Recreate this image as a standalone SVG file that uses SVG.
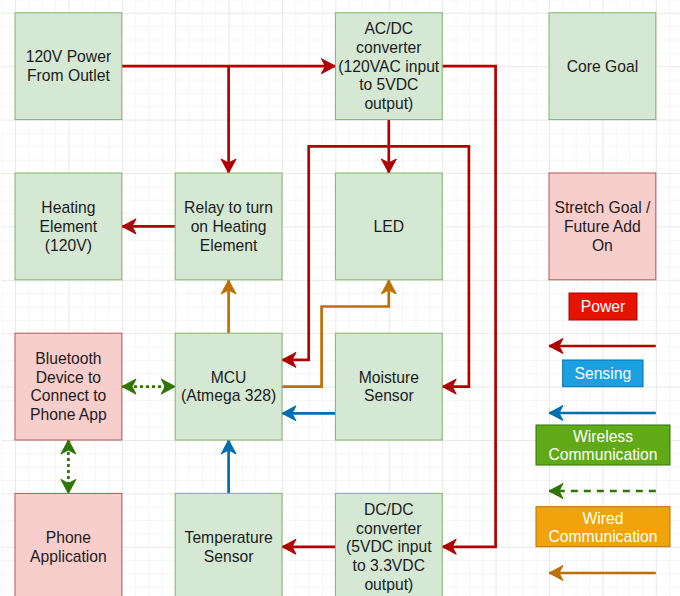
<svg xmlns="http://www.w3.org/2000/svg" width="680" height="596" viewBox="0 0 680 596">
<defs>
<style>
.g{fill:#d5e8d4;stroke:#82b366;stroke-width:1}
.p{fill:#f8cecc;stroke:#b85450;stroke-width:1}
text{font-family:"Liberation Sans",Arial,sans-serif;font-size:15.7px;text-anchor:middle;fill:#1c1c1c}
.w{fill:#ffffff}
.c{fill:none;stroke-width:2.7}
.r{stroke:#B20000}
.o{stroke:#BD7000}
.b{stroke:#006EAF}
.gr{stroke:#2D7600}
</style>
<pattern id="minor" patternUnits="userSpaceOnUse" x="15" y="12.8" width="13.35" height="13.35">
<path d="M0,0 H13.35 M0,0 V13.35" fill="none" stroke="#ececec" stroke-width="1"/>
</pattern>
<pattern id="major" patternUnits="userSpaceOnUse" x="15" y="12.8" width="53.4" height="53.4">
<path d="M0,0 H53.4 M0,0 V53.4" fill="none" stroke="#dedede" stroke-width="1"/>
</pattern>
<marker id="ar" markerUnits="userSpaceOnUse" markerWidth="18" markerHeight="18" viewBox="0 0 18 18" refX="15" refY="9" orient="auto-start-reverse"><path d="M1,1.5 L15,9 L1,16.5 L5,9 z" fill="#B20000" stroke="#B20000" stroke-width="1"/></marker>
<marker id="ao" markerUnits="userSpaceOnUse" markerWidth="18" markerHeight="18" viewBox="0 0 18 18" refX="15" refY="9" orient="auto-start-reverse"><path d="M1,1.5 L15,9 L1,16.5 L5,9 z" fill="#BD7000" stroke="#BD7000" stroke-width="1"/></marker>
<marker id="ab" markerUnits="userSpaceOnUse" markerWidth="18" markerHeight="18" viewBox="0 0 18 18" refX="15" refY="9" orient="auto-start-reverse"><path d="M1,1.5 L15,9 L1,16.5 L5,9 z" fill="#006EAF" stroke="#006EAF" stroke-width="1"/></marker>
<marker id="ag" markerUnits="userSpaceOnUse" markerWidth="18" markerHeight="18" viewBox="0 0 18 18" refX="15" refY="9" orient="auto-start-reverse"><path d="M1,1.5 L15,9 L1,16.5 L5,9 z" fill="#2D7600" stroke="#2D7600" stroke-width="1"/></marker>
</defs>
<rect x="0" y="0" width="680" height="596" fill="#ffffff"/>
<rect x="1.6" y="0" width="680" height="596" fill="url(#minor)"/>
<rect x="1.6" y="0" width="680" height="596" fill="url(#major)"/>

<g id="connectors">
<path class="c r" d="M122,66.2 H335.4" marker-end="url(#ar)"/>
<path class="c r" d="M228.6,66.2 V173" marker-end="url(#ar)"/>
<path class="c r" d="M175.2,226.4 H122" marker-end="url(#ar)"/>
<path class="c r" d="M388.8,119.6 V173" marker-end="url(#ar)"/>
<path class="c r" d="M442.2,66.2 H495.6 V546.8 H442.2" marker-end="url(#ar)"/>
<path class="c r" d="M282,359.9 H308.7 V146.3 H468.9 V386.6 H442.2" marker-start="url(#ar)" marker-end="url(#ar)"/>
<path class="c r" d="M335.4,546.8 H282" marker-end="url(#ar)"/>
<path class="c o" d="M282,386.6 H321.6 V306.5 H388.8 V280" marker-end="url(#ao)"/>
<path class="c o" d="M228.6,333.2 V280" marker-end="url(#ao)"/>
<path class="c b" d="M335.4,413.3 H282" marker-end="url(#ab)"/>
<path class="c b" d="M228.6,493.4 V440" marker-end="url(#ab)"/>
<path class="c gr" d="M122,386.6 H175.2" stroke-dasharray="3 3" marker-start="url(#ag)" marker-end="url(#ag)"/>
<path class="c gr" d="M68.4,440 V493.4" stroke-dasharray="3 3" marker-start="url(#ag)" marker-end="url(#ag)"/>
<path class="c r" d="M655.8,346 H549" marker-end="url(#ar)"/>
<path class="c b" d="M655.8,413 H549" marker-end="url(#ab)"/>
<path class="c gr" d="M655.8,491 H549" stroke-dasharray="7 6" marker-end="url(#ag)"/>
<path class="c o" d="M655.8,573 H549" marker-end="url(#ao)"/>
</g>

<g id="n_power"><rect class="g" x="15" y="12.8" width="106.8" height="106.8"/>
<text x="68.4" y="62.4">120V Power</text><text x="68.4" y="81.1">From Outlet</text></g>
<g id="n_acdc"><rect class="g" x="335.4" y="12.8" width="106.8" height="106.8"/>
<text x="388.8" y="34.3">AC/DC</text><text x="388.8" y="53">converter</text><text x="388.8" y="71.7">(120VAC input</text><text x="388.8" y="90.4">to 5VDC</text><text x="388.8" y="109.1">output)</text></g>
<g id="n_core"><rect class="g" x="549" y="12.8" width="106.8" height="106.8"/>
<text x="602.4" y="71.7">Core Goal</text></g>
<g id="n_heat"><rect class="g" x="15" y="173" width="106.8" height="106.8"/>
<text x="68.4" y="213.2">Heating</text><text x="68.4" y="231.9">Element</text><text x="68.4" y="250.6">(120V)</text></g>
<g id="n_relay"><rect class="g" x="175.2" y="173" width="106.8" height="106.8"/>
<text x="228.6" y="213.2">Relay to turn</text><text x="228.6" y="231.9">on Heating</text><text x="228.6" y="250.6">Element</text></g>
<g id="n_led"><rect class="g" x="335.4" y="173" width="106.8" height="106.8"/>
<text x="388.8" y="231.9">LED</text></g>
<g id="n_stretch"><rect class="p" x="549" y="173" width="106.8" height="106.8"/>
<text x="602.4" y="213.2">Stretch Goal /</text><text x="602.4" y="231.9">Future Add</text><text x="602.4" y="250.6">On</text></g>
<g id="n_bt"><rect class="p" x="15" y="333.2" width="106.8" height="106.8"/>
<text x="68.4" y="364">Bluetooth</text><text x="68.4" y="382.7">Device to</text><text x="68.4" y="401.4">Connect to</text><text x="68.4" y="420.1">Phone App</text></g>
<g id="n_mcu"><rect class="g" x="175.2" y="333.2" width="106.8" height="106.8"/>
<text x="228.6" y="382.7">MCU</text><text x="228.6" y="401.4">(Atmega 328)</text></g>
<g id="n_moist"><rect class="g" x="335.4" y="333.2" width="106.8" height="106.8"/>
<text x="388.8" y="382.7">Moisture</text><text x="388.8" y="401.4">Sensor</text></g>
<g id="n_phone"><rect class="p" x="15" y="493.4" width="106.8" height="106.8"/>
<text x="68.4" y="543">Phone</text><text x="68.4" y="561.7">Application</text></g>
<g id="n_temp"><rect class="g" x="175.2" y="493.4" width="106.8" height="106.8"/>
<text x="228.6" y="543">Temperature</text><text x="228.6" y="561.7">Sensor</text></g>
<g id="n_dcdc"><rect class="g" x="335.4" y="493.4" width="106.8" height="106.8"/>
<text x="388.8" y="514.9">DC/DC</text><text x="388.8" y="533.6">converter</text><text x="388.8" y="552.3">(5VDC input</text><text x="388.8" y="571">to 3.3VDC</text><text x="388.8" y="589.7">output)</text></g>

<g id="legend_power"><rect x="569" y="293" width="68" height="27" fill="#e51400" stroke="#B20000"/>
<text class="w" x="603" y="312">Power</text></g>
<g id="legend_sensing"><rect x="562.7" y="360" width="80.3" height="26.7" fill="#1ba1e2" stroke="#006EAF"/>
<text class="w" x="602.8" y="379">Sensing</text></g>
<g id="legend_wireless"><rect x="536" y="425" width="134" height="40" fill="#60a917" stroke="#2D7600"/>
<text class="w" x="603" y="441.5">Wireless</text><text class="w" x="603" y="460">Communication</text></g>
<g id="legend_wired"><rect x="536" y="506.7" width="134" height="40" fill="#f0a30a" stroke="#BD7000"/>
<text class="w" x="603" y="523.5">Wired</text><text class="w" x="603" y="542">Communication</text></g>
</svg>
